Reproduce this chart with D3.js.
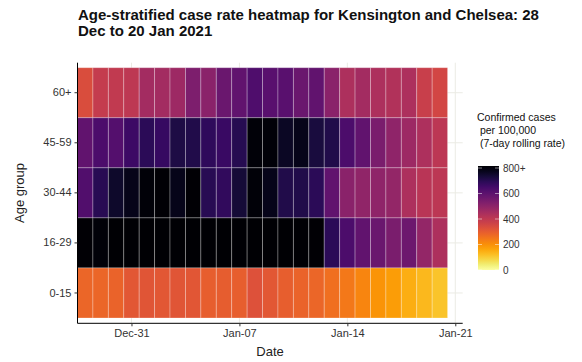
<!DOCTYPE html>
<html>
<head>
<meta charset="utf-8">
<script src="https://cdn.jsdelivr.net/npm/d3@7"></script>
<style>
  html, body { margin: 0; padding: 0; background: #fff; }
  svg { display: block; font-family: "Liberation Sans", Arial, sans-serif; }
</style>
</head>
<body>
<svg id="chart" width="582" height="362"></svg>
<script>
// ---- data ----
const dates = ["2020-12-28","2020-12-29","2020-12-30","2020-12-31","2021-01-01","2021-01-02","2021-01-03","2021-01-04",
  "2021-01-05","2021-01-06","2021-01-07","2021-01-08","2021-01-09","2021-01-10","2021-01-11","2021-01-12",
  "2021-01-13","2021-01-14","2021-01-15","2021-01-16","2021-01-17","2021-01-18","2021-01-19","2021-01-20"];
const ageGroups = ["60+", "45-59", "30-44", "16-29", "0-15"];
const rate60plus = [330, 380, 385, 395, 450, 450, 460, 525, 500, 560, 580, 615, 595, 595, 560, 580, 500, 430, 450, 430, 420, 430, 370, 350];
const rate45to59 = [580, 620, 605, 650, 680, 660, 705, 700, 675, 655, 690, 790, 790, 750, 765, 715, 700, 620, 580, 530, 490, 460, 430, 400];
const rate30to44 = [610, 685, 740, 765, 790, 795, 765, 795, 685, 670, 725, 790, 765, 700, 700, 680, 580, 500, 485, 490, 480, 430, 405, 400];
const rate16to29 = [795, 790, 850, 860, 870, 880, 870, 880, 870, 860, 850, 840, 830, 830, 820, 795, 680, 620, 580, 560, 530, 555, 480, 430];
const rate0to15  = [275, 275, 280, 305, 310, 305, 310, 308, 290, 292, 290, 320, 305, 290, 280, 272, 255, 240, 215, 190, 175, 145, 130, 112];
const seriesByAge = { "60+": rate60plus, "45-59": rate45to59, "30-44": rate30to44, "16-29": rate16to29, "0-15": rate0to15 };
const xTickDates = ["2020-12-31", "2021-01-07", "2021-01-14", "2021-01-21"];
const xTickLabels = ["Dec-31", "Jan-07", "Jan-14", "Jan-21"];
const legendTicks = [0, 200, 400, 600, 800];
const legendTickLabels = ["0", "200", "400", "600", "800+"];

// ---- setup ----
const parse = d3.utcParse("%Y-%m-%d");
const DAY = 864e5;
const svg = d3.select("#chart");
const panel = { left: 77.5, right: 462.7, top: 62.7, bottom: 323.3 };

const x = d3.scaleUtc()
  .domain([new Date(parse("2020-12-28").getTime() - DAY / 2), new Date(parse("2021-01-21").getTime() + DAY / 2)])
  .range([panel.left, panel.left + 25 * 15.42]);
const y = d3.scaleBand().domain(ageGroups).range([67.7, 318]);
const color = d3.scaleSequential(d3.interpolateInferno).domain([800, 0]).clamp(true);

const cells = [];
ageGroups.forEach(g => dates.forEach((d, i) => cells.push({ age: g, date: parse(d), value: seriesByAge[g][i] })));

// gridlines
const grid = svg.append("g");
grid.selectAll("line.h").data(ageGroups).join("line")
  .attr("x1", panel.left).attr("x2", panel.right)
  .attr("y1", d => y(d) + y.bandwidth() / 2).attr("y2", d => y(d) + y.bandwidth() / 2)
  .attr("stroke", "#ebebe4").attr("stroke-width", 1);
grid.selectAll("line.v").data(xTickDates).join("line")
  .attr("x1", d => x(parse(d))).attr("x2", d => x(parse(d)))
  .attr("y1", panel.top).attr("y2", panel.bottom)
  .attr("stroke", "#ebebe4").attr("stroke-width", 1);

// tiles
svg.append("g").selectAll("rect").data(cells).join("rect")
  .attr("x", d => x(new Date(d.date.getTime() - DAY / 2)))
  .attr("width", d => x(new Date(d.date.getTime() + DAY / 2)) - x(new Date(d.date.getTime() - DAY / 2)))
  .attr("y", d => y(d.age))
  .attr("height", y.bandwidth())
  .attr("fill", d => color(d.value))
  .attr("stroke", "rgba(255,255,255,0.3)")
  .attr("stroke-width", 0.9);

// axes
const xAxis = d3.axisBottom(x)
  .tickValues(xTickDates.map(parse))
  .tickFormat((d, i) => xTickLabels[i])
  .tickSize(3).tickPadding(3).tickSizeOuter(0);
const gx = svg.append("g").attr("transform", `translate(0,${panel.bottom})`).call(xAxis);
gx.select(".domain").attr("d", `M${panel.left},0H${panel.right}`).attr("stroke", "#000").attr("stroke-width", 1);

const yAxis = d3.axisLeft(y).tickSize(3).tickPadding(3).tickSizeOuter(0);
const gy = svg.append("g").attr("transform", `translate(${panel.left},0)`).call(yAxis);
gy.select(".domain").attr("d", `M0,${panel.top}V${panel.bottom}`).attr("stroke", "#000").attr("stroke-width", 1);

[gx, gy].forEach(g => {
  g.selectAll(".tick line").attr("stroke", "#333");
  g.selectAll(".tick text").attr("fill", "#333").style("font-size", "11px")
    .style("font-family", '"Liberation Sans", Arial, sans-serif');
});

// axis titles
svg.append("text").attr("x", (panel.left + panel.right) / 2).attr("y", 356)
  .attr("text-anchor", "middle").style("font-size", "13px").attr("fill", "#222").text("Date");
svg.append("text").attr("transform", `translate(24,${(panel.top + panel.bottom) / 2}) rotate(-90)`)
  .attr("text-anchor", "middle").style("font-size", "13px").attr("fill", "#222").text("Age group");

// title
const title = svg.append("text").attr("x", 78).attr("y", 20).style("font-size", "15px").style("font-weight", "bold").attr("fill", "#111");
title.append("tspan").attr("x", 78).attr("dy", 0).text("Age-stratified case rate heatmap for Kensington and Chelsea: 28");
title.append("tspan").attr("x", 78).attr("dy", 15.5).text("Dec to 20 Jan 2021");

// legend
const lg = svg.append("g");
const legTitle = ["Confirmed cases", " per 100,000", " (7-day rolling rate)"];
lg.selectAll("text.lt").data(legTitle).join("text")
  .attr("x", 477).attr("y", (d, i) => 121 + i * 13)
  .style("font-size", "10.5px").attr("fill", "#111").attr("xml:space", "preserve")
  .text(d => d);

const ly = d3.scaleLinear().domain([0, 800]).range([270, 168]);
const defs = svg.append("defs");
const grad = defs.append("linearGradient").attr("id", "lgrad").attr("x1", 0).attr("y1", 1).attr("x2", 0).attr("y2", 0);
d3.range(0, 1.0001, 0.05).forEach(t => grad.append("stop").attr("offset", t).attr("stop-color", color(t * 800)));
lg.append("rect").attr("x", 478).attr("y", ly(800) - 2).attr("width", 21).attr("height", ly(0) - ly(800) + 2)
  .attr("fill", "url(#lgrad)");
lg.selectAll("line.lt").data(legendTicks).join("line")
  .attr("x1", 478).attr("x2", 482).attr("y1", d => ly(d)).attr("y2", d => ly(d)).attr("stroke", "rgba(255,255,255,0.5)");
lg.selectAll("line.rt").data(legendTicks).join("line")
  .attr("x1", 495).attr("x2", 499).attr("y1", d => ly(d)).attr("y2", d => ly(d)).attr("stroke", "rgba(255,255,255,0.5)");
lg.selectAll("text.tl").data(legendTicks).join("text")
  .attr("x", 503).attr("y", d => ly(d) + 3.5)
  .style("font-size", "10px").attr("fill", "#333")
  .text((d, i) => legendTickLabels[i]);
</script>
</body>
</html>
